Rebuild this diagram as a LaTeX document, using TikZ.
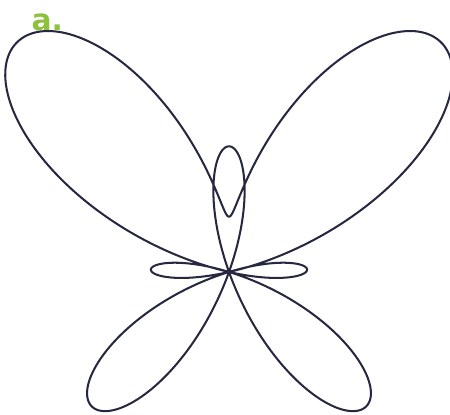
\documentclass[tikz,border=0pt]{standalone}
\usepackage{fontspec}
\newfontfamily\labelfont{DejaVu Sans}
\usepackage{tikz}
\definecolor{curveink}{HTML}{262840}
\definecolor{tag}{HTML}{8DC23F}
\begin{document}
\begin{tikzpicture}[
  wing/.style={draw=curveink, line width=0.75pt, line join=round},
  tagtext/.style={font=\labelfont\bfseries\fontsize{11}{13}\selectfont, text=tag, inner sep=0pt},
]
  \useasboundingbox (-2.974,-1.857) rectangle (2.870,3.532);
  \node[tagtext] (lbl) at (-2.36,3.24) {a.};

  % r = e^{sin t} - 2 cos(4t)
  \draw[wing, domain=0:360, samples=600, smooth, variable=\t]
    plot ({(exp(sin(\t))-2*cos(4*\t))*cos(\t)}, {(exp(sin(\t))-2*cos(4*\t))*sin(\t)}) -- cycle;
\end{tikzpicture}
\end{document}
